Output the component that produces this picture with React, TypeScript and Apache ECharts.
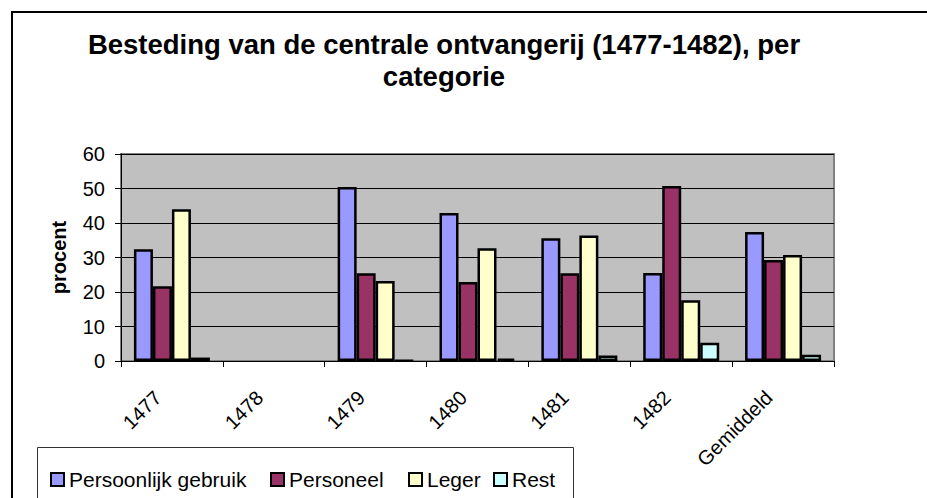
import React, { useEffect, useRef } from "react";
import * as echarts from "echarts";

const titleLines = ["Besteding van de centrale ontvangerij (1477-1482), per", "categorie"];
const categories = ["1477", "1478", "1479", "1480", "1481", "1482", "Gemiddeld"];
const seriesNames = ["Persoonlijk gebruik", "Personeel", "Leger", "Rest"];
const persoonlijkGebruik = [32.4, null, 50.4, 42.9, 35.6, 25.5, 37.4];
const personeel = [21.7, null, 25.4, 22.9, 25.4, 50.7, 29.3];
const leger = [44.0, null, 23.2, 32.7, 36.4, 17.6, 30.7];
const rest = [1.0, null, 0.2, 0.7, 1.6, 5.3, 1.8];
const yAxisName = "procent";
const yMin = 0;
const yMax = 60;
const yInterval = 10;

const colors = ["#9999FF", "#993366", "#FFFFCC", "#CCFFFF"];
const FONT = "'Liberation Sans', Arial, sans-serif";

export default function App() {
  const ref = useRef<HTMLDivElement>(null);
  useEffect(() => {
    if (!ref.current) return;
    const chart = echarts.init(ref.current, null, { renderer: "svg" });
    const values = [persoonlijkGebruik, personeel, leger, rest];
    const legendLefts = [50, 270, 408, 493];
    chart.setOption({
      animation: false,
      backgroundColor: "#ffffff",
      textStyle: { fontFamily: FONT },
      graphic: [
        {
          type: "rect",
          z: 0,
          shape: { x: 12, y: 12, width: 1000, height: 1000 },
          style: { fill: "none", stroke: "#000", lineWidth: 2 },
          silent: true,
        },
        {
          type: "rect",
          z: 0,
          shape: { x: 37.5, y: 447.5, width: 536, height: 100 },
          style: { fill: "#fff", stroke: "#333", lineWidth: 1 },
          silent: true,
        },
        ...titleLines.map((t, i) => ({
          type: "text",
          z: 5,
          x: 444,
          y: 44 + i * 32,
          style: {
            text: t,
            fill: "#000",
            font: `bold 27.5px ${FONT}`,
            align: "center",
            verticalAlign: "middle",
          },
        })),
      ],
      legend: seriesNames.map((n, i) => ({
        data: [n],
        left: legendLefts[i],
        top: 469,
        padding: 0,
        itemWidth: 13,
        itemHeight: 13,
        itemGap: 5,
        icon: "rect",
        selectedMode: false,
        textStyle: { fontSize: 21, fontFamily: FONT, color: "#000", lineHeight: 16 },
      })),
      grid: {
        left: 121,
        right: 93,
        top: 154,
        bottom: 137,
        show: true,
        backgroundColor: "#C0C0C0",
        borderColor: "#808080",
        borderWidth: 2,
        containLabel: false,
      },
      xAxis: {
        type: "category",
        data: categories,
        boundaryGap: true,
        axisLine: { lineStyle: { color: "#000", width: 1 } },
        axisTick: { show: true, length: 6, lineStyle: { color: "#000" } },
        axisLabel: {
          rotate: 45,
          interval: 0,
          margin: 19,
          padding: [0, 20, 0, 0],
          fontSize: 20,
          fontFamily: FONT,
          color: "#000",
        },
      },
      yAxis: {
        type: "value",
        min: yMin,
        max: yMax,
        interval: yInterval,
        name: yAxisName,
        nameLocation: "middle",
        nameGap: 52,
        nameTextStyle: { fontSize: 20, fontWeight: "bold", fontFamily: FONT, color: "#000" },
        axisLine: { show: true, lineStyle: { color: "#000", width: 1 } },
        axisTick: { show: true, length: 6, lineStyle: { color: "#000" } },
        axisLabel: { fontSize: 20, margin: 16, fontFamily: FONT, color: "#000" },
        splitLine: { show: true, lineStyle: { color: "#000", width: 1 } },
      },
      series: seriesNames.map((n, i) => ({
        name: n,
        type: "bar",
        data: values[i],
        barWidth: 19,
        barGap: "0%",
        itemStyle: { color: colors[i], borderColor: "#000", borderWidth: 2.5 },
      })),
    });
    return () => chart.dispose();
  }, []);
  return (
    <div
      ref={ref}
      style={{ position: "fixed", left: 0, top: 0, width: 927, height: 498 }}
    />
  );
}
